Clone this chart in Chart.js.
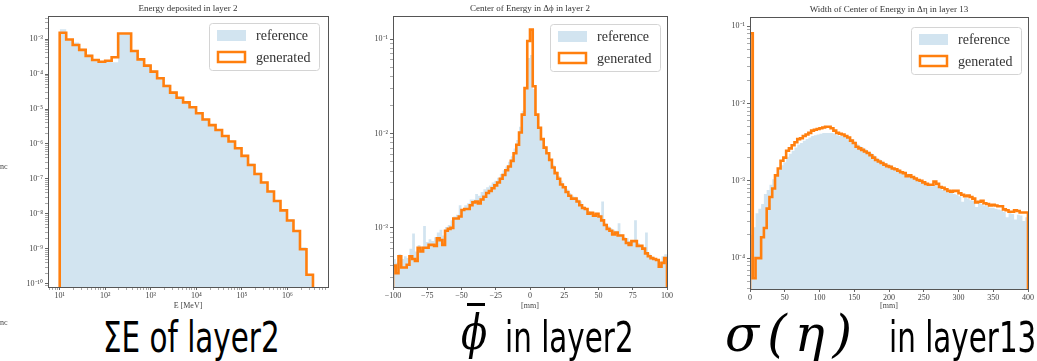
<!DOCTYPE html>
<html>
<head>
<meta charset="utf-8">
<title>layer histograms</title>
<script src="https://cdn.jsdelivr.net/npm/chart.js@4.4.1/dist/chart.umd.min.js"></script>
<style>
  body { margin: 0; background: #fff; }
  #page { position: relative; width: 1037px; height: 361px; overflow: hidden; }
  canvas { position: absolute; top: 0; }
  .cap { position: absolute; top: 317px; font-family: "DejaVu Sans", sans-serif; font-size: 42px; line-height: 42px;
         color: #000; white-space: nowrap; transform: scaleX(0.70); transform-origin: left top; }
  .mi { position: absolute; font-family: "DejaVu Serif", serif; font-style: italic; color: #000; white-space: nowrap; }
  .stub { position: absolute; left: 0; font: 8px "Liberation Serif", serif; color: #444; }
</style>
</head>
<body>
<div id="page">
  <canvas id="c1" width="340" height="312" style="left:0px"></canvas>
  <canvas id="c2" width="340" height="312" style="left:345px"></canvas>
  <canvas id="c3" width="337" height="312" style="left:700px"></canvas>
  <div class="stub" style="top:162px">nc</div>
  <div class="stub" style="top:318px">nc</div>
  <div class="cap" style="left:103px">ΣE of layer2</div>
  <div class="mi" style="left:461px; top:308px; font-size:48px; line-height:48px; transform:scaleX(0.8); transform-origin:left top">ϕ</div>
  <div style="position:absolute; left:467px; top:303px; width:18px; height:3px; background:#000"></div>
  <div class="cap" style="left:505px">in layer2</div>
  <div class="mi" style="left:725px; top:309px; font-size:50px; line-height:50px; letter-spacing:8px">σ(η)</div>
  <div class="cap" style="left:889px">in layer13</div>
</div>
<script>
// matplotlib C0 (alpha 0.2) and C1
var refFill = 'rgba(31,119,180,0.2)';
var genLine = '#ff7f0e';
var seriesNames = ['reference', 'generated'];

// all values below are log10 of the normalised bin content

// Energy deposited in layer 2 : 39 log bins, 10^1 .. 10^6.56 MeV
var eBinsLog = [1, 6.56], eBinCount = 39;
var eRef = [-2.72,-3.00,-3.10,-3.28,-3.45,-3.58,-3.63,-3.64,-3.66,-2.87,-2.86,-3.32,-3.55,
            -3.73,-3.90,-4.09,-4.30,-4.50,-4.66,-4.79,-4.93,-5.10,-5.27,-5.43,-5.58,-5.75,
            -5.91,-6.09,-6.31,-6.56,-6.82,-7.07,-7.33,-7.60,-7.87,-8.16,-8.46,-8.95,-9.74];
var eGen = [-2.82,-3.01,-3.17,-3.31,-3.48,-3.60,-3.65,-3.62,-3.52,-2.84,-2.84,-3.34,-3.58,
            -3.76,-3.93,-4.12,-4.34,-4.53,-4.68,-4.81,-4.95,-5.12,-5.30,-5.46,-5.60,-5.77,
            -5.93,-6.12,-6.34,-6.60,-6.86,-7.10,-7.36,-7.63,-7.90,-8.19,-8.49,-9.01,-9.74];
var eXTickExp = [1, 2, 3, 4, 5, 6];
var eYTickExp = [-10, -9, -8, -7, -6, -5, -4, -3];

// Center of Energy in dphi, layer 2 : 2 mm bins, -100 .. 100
var phiBins = [-100, 100], phiBinCount = 100;
var phiRef = [-3.33,-3.37,-3.28,-3.33,-3.30,-3.32,-3.22,-3.06,-3.25,-3.18,
              -3.20,-2.98,-3.15,-3.12,-3.14,-3.10,-3.05,-3.02,-3.08,-2.99,
              -2.97,-2.92,-2.88,-2.86,-2.76,-2.80,-2.76,-2.74,-2.70,-2.70,
              -2.64,-2.66,-2.62,-2.59,-2.57,-2.55,-2.52,-2.50,-2.47,-2.43,
              -2.39,-2.35,-2.30,-2.24,-2.16,-2.07,-1.93,-1.76,-1.52,-1.20,
              -1.17,-1.53,-1.80,-1.95,-2.05,-2.13,-2.20,-2.27,-2.33,-2.40,
              -2.45,-2.50,-2.55,-2.59,-2.63,-2.66,-2.67,-2.70,-2.72,-2.77,
              -2.79,-2.82,-2.83,-2.85,-2.84,-2.86,-2.72,-2.95,-2.98,-3.00,
              -3.02,-3.03,-2.95,-3.07,-3.10,-3.11,-3.14,-3.13,-2.92,-3.16,
              -3.18,-3.20,-3.05,-3.27,-3.30,-3.32,-3.33,-3.36,-3.30,-3.28];
var phiGen = [-3.40,-3.48,-3.30,-3.42,-3.42,-3.39,-3.30,-3.33,-3.35,-3.21,
              -3.25,-3.21,-3.21,-3.18,-3.18,-3.19,-3.11,-3.13,-3.18,-3.03,
              -3.01,-3.00,-2.90,-2.90,-2.88,-2.81,-2.80,-2.80,-2.76,-2.73,
              -2.72,-2.74,-2.70,-2.67,-2.63,-2.61,-2.58,-2.55,-2.52,-2.48,
              -2.44,-2.39,-2.35,-2.29,-2.21,-2.12,-1.99,-1.80,-1.52,-1.02,
              -0.90,-1.50,-1.80,-1.94,-2.06,-2.15,-2.21,-2.28,-2.36,-2.42,
              -2.48,-2.54,-2.57,-2.62,-2.66,-2.69,-2.69,-2.72,-2.76,-2.79,
              -2.80,-2.85,-2.84,-2.87,-2.85,-2.88,-2.92,-2.97,-3.01,-3.03,
              -3.07,-3.05,-3.08,-3.08,-3.12,-3.16,-3.18,-3.14,-3.14,-3.19,
              -3.19,-3.22,-3.27,-3.30,-3.32,-3.33,-3.34,-3.41,-3.37,-3.32];
var phiXTicks = [-100, -75, -50, -25, 0, 25, 50, 75, 100];
var phiYTickExp = [-3, -2, -1];

// Width of Center of Energy in deta, layer 13 : 4 mm bins, 0 .. 400
var widBins = [0, 400], widBinCount = 100;
var widRef = [-3.70,-3.60,-3.42,-3.36,-3.30,-3.17,-3.12,-3.05,-2.98,-2.92,
              -2.86,-2.80,-2.76,-2.69,-2.65,-2.61,-2.57,-2.53,-2.51,-2.48,
              -2.46,-2.44,-2.42,-2.41,-2.40,-2.39,-2.38,-2.38,-2.38,-2.38,
              -2.39,-2.41,-2.42,-2.42,-2.43,-2.44,-2.46,-2.49,-2.52,-2.55,
              -2.57,-2.59,-2.62,-2.64,-2.67,-2.70,-2.72,-2.74,-2.77,-2.79,
              -2.80,-2.82,-2.84,-2.85,-2.87,-2.89,-2.91,-2.92,-2.94,-2.96,
              -2.98,-3.00,-3.02,-3.04,-3.06,-3.07,-3.06,-3.07,-3.09,-3.12,
              -3.13,-3.15,-3.15,-3.17,-3.18,-3.20,-3.27,-3.22,-3.23,-3.25,
              -3.26,-3.34,-3.29,-3.30,-3.32,-3.33,-3.35,-3.35,-3.36,-3.37,
              -3.38,-3.40,-3.47,-3.42,-3.43,-3.50,-3.44,-3.45,-3.52,-3.47];
var widGen = [-1.09,-4.26,-4.00,-4.00,-3.73,-3.61,-3.36,-3.21,-3.10,-2.93,
              -2.84,-2.74,-2.70,-2.61,-2.58,-2.54,-2.50,-2.46,-2.45,-2.42,
              -2.40,-2.38,-2.35,-2.34,-2.33,-2.32,-2.31,-2.30,-2.30,-2.32,
              -2.35,-2.38,-2.39,-2.40,-2.42,-2.44,-2.48,-2.51,-2.56,-2.58,
              -2.60,-2.62,-2.64,-2.67,-2.70,-2.73,-2.75,-2.77,-2.79,-2.81,
              -2.82,-2.84,-2.85,-2.87,-2.89,-2.90,-2.94,-2.93,-2.95,-2.97,
              -2.99,-3.00,-3.02,-3.04,-3.05,-3.05,-3.01,-3.04,-3.08,-3.09,
              -3.11,-3.13,-3.14,-3.13,-3.13,-3.16,-3.18,-3.20,-3.19,-3.21,
              -3.23,-3.28,-3.27,-3.26,-3.29,-3.30,-3.32,-3.31,-3.32,-3.33,
              -3.33,-3.37,-3.38,-3.40,-3.40,-3.38,-3.39,-3.41,-3.41,-3.41];
var widXTicks = [0, 50, 100, 150, 200, 250, 300, 350, 400];
var widYTickExp = [-4, -3, -2, -1];


function binEdges(range, n, isLog) {
  var out = [];
  for (var i = 0; i <= n; i++) {
    var v = range[0] + (range[1] - range[0]) * i / n;
    out.push(isLog ? Math.pow(10, v) : v);
  }
  return out;
}

// outline of a histogram: up at the first edge, flat over each bin, down at the last edge
function stepData(edges, logs, floor) {
  var pts = [{ x: edges[0], y: floor }];
  logs.forEach(function (v, i) { pts.push({ x: edges[i], y: Math.pow(10, v) }); });
  pts.push({ x: edges[edges.length - 1], y: floor });
  return pts;
}

var supMap = { '-': '\u207B', '0': '\u2070', '1': '\u00B9', '2': '\u00B2', '3': '\u00B3', '4': '\u2074',
               '5': '\u2075', '6': '\u2076', '7': '\u2077', '8': '\u2078', '9': '\u2079' };
function pow10Label(k) {
  return '10' + String(k).split('').map(function (c) { return supMap[c]; }).join('');
}

// every 1..9 x 10^k inside the axis, the listed decades carry a label
function logTicks(lo, hi, labelled) {
  var t = [];
  for (var k = Math.floor(lo); k <= Math.ceil(hi); k++) {
    for (var m = 1; m < 10; m++) {
      var lv = k + Math.log10(m);
      if (lv >= lo && lv <= hi) t.push({ value: m * Math.pow(10, k), major: m === 1 && labelled.indexOf(k) >= 0 });
    }
  }
  return t;
}

var tickFont = { family: 'Liberation Serif', size: 8 };

function makeAxis(kind, range, labels, size, isX, title) {
  var ax = {
    type: kind === 'log' ? 'logarithmic' : 'linear',
    min: kind === 'log' ? Math.pow(10, range[0]) : range[0],
    max: kind === 'log' ? Math.pow(10, range[1]) : range[1],
    grid: { display: true, drawOnChartArea: false, drawTicks: true, tickLength: 3, tickColor: '#555',
            tickWidth: function (c) { return c.tick && c.tick.major ? 0.9 : 0.5; } },
    border: { display: false },
    ticks: { autoSkip: false, maxRotation: 0, padding: isX ? 1 : 2, color: '#444', font: tickFont },
    afterBuildTicks: function (s) {
      if (kind === 'log') s.ticks = logTicks(range[0], range[1], labels);
      else s.ticks = labels.map(function (v) { return { value: v, major: true }; });
    },
    afterFit: function (s) { if (isX) s.height = size; else s.width = size; }
  };
  ax.ticks.callback = function (v, i, ticks) {
    if (!ticks[i].major) return '';
    if (kind === 'log') return pow10Label(Math.round(Math.log10(v)));
    return v < 0 ? '\u2212' + (-v) : String(v);
  };
  if (title) {
    ax.title = { display: true, text: title, color: '#444', font: tickFont, padding: { top: 0, bottom: 1 } };
  }
  return ax;
}

// frame, title over the plot and the boxed legend in the upper right
var decorations = {
  id: 'decorations',
  afterDatasetsDraw: function (chart, args, o) {
    var ctx = chart.ctx, a = chart.chartArea;
    ctx.save();
    ctx.strokeStyle = '#555';
    ctx.lineWidth = 1;
    ctx.strokeRect(Math.round(a.left) + 0.5, Math.round(a.top) + 0.5,
                   Math.round(a.right - a.left), Math.round(a.bottom - a.top));

    ctx.fillStyle = '#333';
    ctx.font = '9px "Liberation Serif"';
    ctx.textAlign = 'center';
    ctx.textBaseline = 'middle';
    ctx.fillText(o.title, (a.left + a.right) / 2, a.top - 7);

    var w = 110, h = 47, x = a.right - o.dx - w, y = a.top + o.dy;
    ctx.beginPath();
    ctx.roundRect(x + 0.5, y + 0.5, w, h, 3);
    ctx.fillStyle = 'rgba(255,255,255,0.8)';
    ctx.fill();
    ctx.strokeStyle = '#d4d4d4';
    ctx.stroke();
    ctx.fillStyle = refFill;
    ctx.fillRect(x + 8, y + 7, 29, 11);
    ctx.strokeStyle = genLine;
    ctx.lineWidth = 2.5;
    ctx.strokeRect(x + 9, y + 29, 27, 10);
    ctx.fillStyle = '#333';
    ctx.font = '14px "Liberation Serif"';
    ctx.textAlign = 'left';
    ctx.fillText(chart.data.datasets[0].label, x + 47, y + 13);
    ctx.fillText(chart.data.datasets[1].label, x + 47, y + 35);
    ctx.restore();
  }
};

function histChart(id, o) {
  var floor = Math.pow(10, o.yRange[0]);
  var edges = binEdges(o.bins, o.count, o.xKind === 'log');
  return new Chart(document.getElementById(id), {
    type: 'line',
    data: {
      datasets: [
        { label: seriesNames[0], data: stepData(edges, o.ref, floor), stepped: true, fill: 'start',
          backgroundColor: refFill, borderColor: 'rgba(0,0,0,0)', borderWidth: 0, pointRadius: 0, order: 1 },
        { label: seriesNames[1], data: stepData(edges, o.gen, floor), stepped: true, fill: false,
          borderColor: genLine, borderWidth: 2.6, pointRadius: 0, order: 0 }
      ]
    },
    options: {
      responsive: false,
      animation: false,
      events: [],
      layout: { padding: { top: o.top, right: o.right, left: 0, bottom: 0 } },
      plugins: {
        legend: { display: false },
        tooltip: { enabled: false },
        decorations: { title: o.title, dx: o.dx, dy: o.dy }
      },
      scales: {
        x: makeAxis(o.xKind, o.xRange, o.xTicks, o.xh, true, o.xTitle),
        y: makeAxis('log', o.yRange, o.yTicks, o.yw, false, null)
      }
    },
    plugins: [decorations]
  });
}

histChart('c1', {
  title: 'Energy deposited in layer 2', xTitle: 'E [MeV]',
  bins: eBinsLog, count: eBinCount, ref: eRef, gen: eGen,
  xKind: 'log', xRange: [0.743, 6.89], xTicks: eXTickExp,
  yRange: [-10.09, -2.34], yTicks: eYTickExp,
  top: 16, right: 12, yw: 48, xh: 25, dx: 9, dy: 7
});

histChart('c2', {
  title: 'Center of Energy in \u0394\u03D5 in layer 2', xTitle: '[mm]',
  bins: phiBins, count: phiBinCount, ref: phiRef, gen: phiGen,
  xKind: 'linear', xRange: [-100, 100], xTicks: phiXTicks,
  yRange: [-3.626, -0.756], yTicks: phiYTickExp,
  top: 16, right: 18, yw: 48, xh: 25, dx: 7, dy: 8
});

histChart('c3', {
  title: 'Width of Center of Energy in \u0394\u03B7 in layer 13', xTitle: '[mm]',
  bins: widBins, count: widBinCount, ref: widRef, gen: widGen,
  xKind: 'linear', xRange: [0, 400], xTicks: widXTicks,
  yRange: [-4.40, -0.88], yTicks: widYTickExp,
  top: 17, right: 9, yw: 50, xh: 23, dx: 7, dy: 10
});
</script>
</body>
</html>
